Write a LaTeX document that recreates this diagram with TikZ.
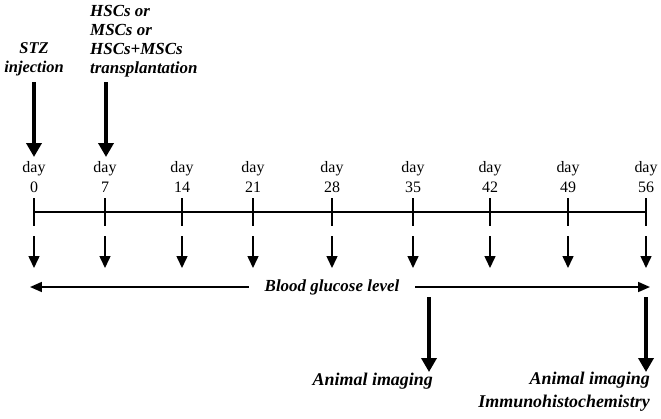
\documentclass[tikz,border=0pt]{standalone}
\usepackage{fontspec}
\setmainfont{Liberation Serif}
\usetikzlibrary{arrows.meta, positioning}
\tikzset{daylabel/.style={align=center, inner sep=0pt, font=\fontsize{16}{20}\selectfont},
  eventlabel/.style={inner sep=0pt, font=\fontsize{17}{19}\selectfont\bfseries\itshape},
  daytick/.style={line width=1.2pt},
  sample/.style={line width=1.5pt, -{Triangle[length=12pt, width=11pt]}},
  bigarrow/.style={line width=4.5pt, -{Triangle[length=14pt, width=15pt]}},
  glucose/.style={line width=1.8pt, -{Triangle[length=12pt, width=10pt]}}}

\begin{document}
\begin{tikzpicture}[x=1bp, y=-1bp]
    \useasboundingbox (0,0) rectangle (661,418);
    % treatments
    \node[eventlabel, align=center, font=\fontsize{16.5}{19}\selectfont\bfseries\itshape] (stz) at (34,59) {STZ\\injection};
    \node[eventlabel, align=left, anchor=west] (cells) at (90,41) {HSCs or\\MSCs or\\HSCs+MSCs\\transplantation};
    \coordinate (stz-a) at (34,82);   \coordinate (stz-b) at (34,157);
    \coordinate (cells-a) at (106,82); \coordinate (cells-b) at (106,157);
    \draw[bigarrow] (stz-a) -- (stz-b);
    \draw[bigarrow] (cells-a) -- (cells-b);

    % days
    \node[daylabel] (d-0) at (34,177) {day\\0};
    \node[daylabel] (d-7) at (105,177) {day\\7};
    \node[daylabel] (d-14) at (182,177) {day\\14};
    \node[daylabel] (d-21) at (253,177) {day\\21};
    \node[daylabel] (d-28) at (332,177) {day\\28};
    \node[daylabel] (d-35) at (413,177) {day\\35};
    \node[daylabel] (d-42) at (490,177) {day\\42};
    \node[daylabel] (d-49) at (568,177) {day\\49};
    \node[daylabel] (d-56) at (646,177) {day\\56};

    % time line
    \coordinate (line-0) at (34,212);
    \coordinate (line-56) at (646,212);
    \draw[daytick] (line-0) -- (line-56);
    \draw[daytick] (34,198) -- (34,226);
    \draw[daytick] (105,198) -- (105,226);
    \draw[daytick] (182,198) -- (182,226);
    \draw[daytick] (253,198) -- (253,226);
    \draw[daytick] (332,198) -- (332,226);
    \draw[daytick] (413,198) -- (413,226);
    \draw[daytick] (490,198) -- (490,226);
    \draw[daytick] (568,198) -- (568,226);
    \draw[daytick] (646,198) -- (646,226);

    % measurements
    \draw[sample] (34,236) -- (34,268);
    \draw[sample] (105,236) -- (105,268);
    \draw[sample] (182,236) -- (182,268);
    \draw[sample] (253,236) -- (253,268);
    \draw[sample] (332,236) -- (332,268);
    \draw[sample] (413,236) -- (413,268);
    \draw[sample] (490,236) -- (490,268);
    \draw[sample] (568,236) -- (568,268);
    \draw[sample] (646,236) -- (646,268);

    \node[eventlabel, inner xsep=16bp] (bgl) at (332,287) {Blood glucose level};
    \coordinate (bgl-left) at (30,287);
    \coordinate (bgl-right) at (650,287);
    \draw[glucose] (bgl.west) -- (bgl-left);
    \draw[glucose] (bgl.east) -- (bgl-right);

    % end points
    \coordinate (img-a) at (429,297);  \coordinate (img-b) at (429,372);
    \coordinate (end-a) at (646,297);  \coordinate (end-b) at (646,372);
    \draw[bigarrow] (img-a) -- (img-b);
    \draw[bigarrow] (end-a) -- (end-b);
    \node[eventlabel, anchor=east, font=\fontsize{18}{23}\selectfont\bfseries\itshape] (img) at (433,381) {Animal imaging};
    \node[eventlabel, align=right, anchor=east, font=\fontsize{18}{23}\selectfont\bfseries\itshape] (end) at (650,392) {Animal imaging\\Immunohistochemistry};
\end{tikzpicture}
\end{document}
